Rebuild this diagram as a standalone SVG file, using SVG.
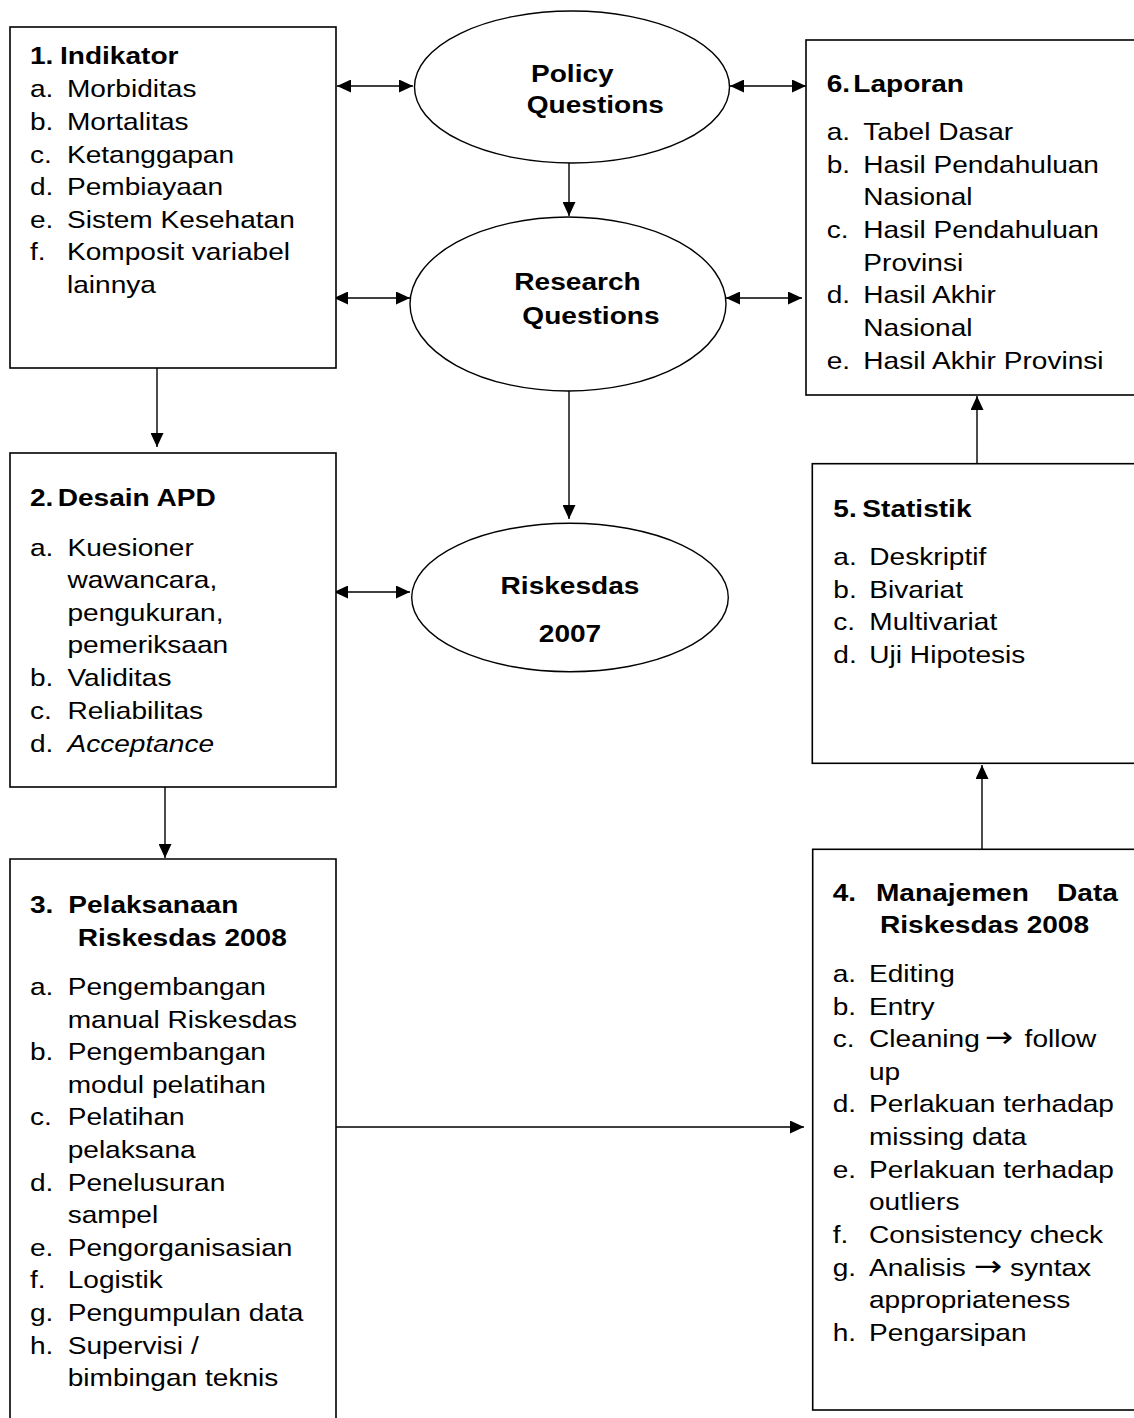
<svg xmlns="http://www.w3.org/2000/svg" width="1134" height="1418" viewBox="0 0 1134 1418">
<style>
.box{fill:#fff;stroke:#000;stroke-width:1.6}
.ell{fill:#fff;stroke:#000;stroke-width:1.4}
.ln{fill:none;stroke:#000;stroke-width:1.4}
text{font-family:"Liberation Sans",Arial,sans-serif;font-size:24px;fill:#000}
.b{font-weight:bold}
.i{font-style:italic}
.ar{font-family:"DejaVu Sans",sans-serif;font-size:29px}
</style>
<defs>
<marker id="ah" viewBox="0 0 14 13" refX="14" refY="6.5" markerWidth="14" markerHeight="13" markerUnits="userSpaceOnUse" orient="auto-start-reverse">
<path d="M0,0 L14,6.5 L0,13 z" fill="#000"/>
</marker>
</defs>
<rect width="1134" height="1418" fill="#fff"/>

<g id="connectors">
<path class="ln" d="M337,86 H413" marker-start="url(#ah)" marker-end="url(#ah)"/>
<path class="ln" d="M334,298 H410" marker-start="url(#ah)" marker-end="url(#ah)"/>
<path class="ln" d="M730,86 H806" marker-start="url(#ah)" marker-end="url(#ah)"/>
<path class="ln" d="M726,298 H802" marker-start="url(#ah)" marker-end="url(#ah)"/>
<path class="ln" d="M334,592 H410" marker-start="url(#ah)" marker-end="url(#ah)"/>
<path class="ln" d="M569,163 V216" marker-end="url(#ah)"/>
<path class="ln" d="M569,391 V519" marker-end="url(#ah)"/>
<path class="ln" d="M157,368 V447" marker-end="url(#ah)"/>
<path class="ln" d="M165,787 V858" marker-end="url(#ah)"/>
<path class="ln" d="M336,1127 H804" marker-end="url(#ah)"/>
<path class="ln" d="M982,849 V765" marker-end="url(#ah)"/>
<path class="ln" d="M977,464 V396" marker-end="url(#ah)"/>
</g>

<g id="node-policy">
<ellipse class="ell" cx="572" cy="87" rx="157.5" ry="76"/>
<text class="b" transform="translate(531 81.7) scale(1.17 1)">Policy</text>
<text class="b" transform="translate(526.7 112.7) scale(1.17 1)">Questions</text>
</g>

<g id="node-research">
<ellipse class="ell" cx="568" cy="304" rx="158" ry="87"/>
<text class="b" transform="translate(514.3 290) scale(1.17 1)">Research</text>
<text class="b" transform="translate(522.3 324) scale(1.17 1)">Questions</text>
</g>

<g id="node-riskesdas">
<ellipse class="ell" cx="570" cy="597.5" rx="158.3" ry="74.2"/>
<text class="b" text-anchor="middle" transform="translate(570 594) scale(1.17 1)">Riskesdas</text>
<text class="b" text-anchor="middle" transform="translate(570 642.3) scale(1.17 1)">2007</text>
</g>

<g id="node-1">
<rect class="box" x="10" y="27" width="326" height="341"/>
<g transform="translate(30 0) scale(1.17 1)">
<text class="b" y="64.3"><tspan x="0">1.</tspan><tspan x="25.6">Indikator</tspan></text>
<text y="97"><tspan x="0">a.</tspan><tspan x="31.6">Morbiditas</tspan></text>
<text y="130"><tspan x="0">b.</tspan><tspan x="31.6">Mortalitas</tspan></text>
<text y="162.6"><tspan x="0">c.</tspan><tspan x="31.6">Ketanggapan</tspan></text>
<text y="195.2"><tspan x="0">d.</tspan><tspan x="31.6">Pembiayaan</tspan></text>
<text y="227.8"><tspan x="0">e.</tspan><tspan x="31.6">Sistem Kesehatan</tspan></text>
<text y="260.4"><tspan x="0">f.</tspan><tspan x="31.6">Komposit variabel</tspan></text>
<text y="293" x="31.6">lainnya</text>
</g>
</g>

<g id="node-2">
<rect class="box" x="10" y="453" width="326" height="334"/>
<g transform="translate(30 0) scale(1.17 1)">
<text class="b" y="505.7"><tspan x="0">2.</tspan><tspan x="23.7">Desain APD</tspan></text>
<text y="555.7"><tspan x="0">a.</tspan><tspan x="32">Kuesioner</tspan></text>
<text y="588.3" x="32">wawancara,</text>
<text y="620.9" x="32">pengukuran,</text>
<text y="653.5" x="32">pemeriksaan</text>
<text y="686.5"><tspan x="0">b.</tspan><tspan x="32">Validitas</tspan></text>
<text y="719"><tspan x="0">c.</tspan><tspan x="32">Reliabilitas</tspan></text>
<text y="751.7"><tspan x="0">d.</tspan><tspan x="32" class="i">Acceptance</tspan></text>
</g>
</g>

<g id="node-3">
<path class="box" d="M10,1425 V859 H336 V1425"/>
<g transform="translate(30 0) scale(1.17 1)">
<text class="b" y="913"><tspan x="0">3.</tspan><tspan x="32.7">Pelaksanaan</tspan></text>
<text class="b" y="946" x="40.8">Riskesdas 2008</text>
<text y="995"><tspan x="0">a.</tspan><tspan x="32.2">Pengembangan</tspan></text>
<text y="1027.6" x="32.2">manual Riskesdas</text>
<text y="1060.2"><tspan x="0">b.</tspan><tspan x="32.2">Pengembangan</tspan></text>
<text y="1092.8" x="32.2">modul pelatihan</text>
<text y="1125.4"><tspan x="0">c.</tspan><tspan x="32.2">Pelatihan</tspan></text>
<text y="1158" x="32.2">pelaksana</text>
<text y="1190.6"><tspan x="0">d.</tspan><tspan x="32.2">Penelusuran</tspan></text>
<text y="1223.2" x="32.2">sampel</text>
<text y="1255.8"><tspan x="0">e.</tspan><tspan x="32.2">Pengorganisasian</tspan></text>
<text y="1288.4"><tspan x="0">f.</tspan><tspan x="32.2">Logistik</tspan></text>
<text y="1321"><tspan x="0">g.</tspan><tspan x="32.2">Pengumpulan data</tspan></text>
<text y="1353.6"><tspan x="0">h.</tspan><tspan x="32.2">Supervisi /</tspan></text>
<text y="1386.2" x="32.2">bimbingan teknis</text>
</g>
</g>

<g id="node-4">
<rect class="box" x="812.7" y="849.3" width="400" height="560.7"/>
<g transform="translate(832.7 0) scale(1.17 1)">
<text class="b" y="901"><tspan x="0">4.</tspan><tspan x="37">Manajemen</tspan></text>
<text class="b" y="901" x="243.8" text-anchor="end">Data</text>
<text class="b" y="933" x="40.4">Riskesdas 2008</text>
<text y="982"><tspan x="0">a.</tspan><tspan x="31">Editing</tspan></text>
<text y="1014.6"><tspan x="0">b.</tspan><tspan x="31">Entry</tspan></text>
<text y="1047.2"><tspan x="0">c.</tspan><tspan x="31">Cleaning</tspan><tspan class="ar" x="130">→</tspan><tspan x="164">follow</tspan></text>
<text y="1079.8" x="31">up</text>
<text y="1112.4"><tspan x="0">d.</tspan><tspan x="31">Perlakuan terhadap</tspan></text>
<text y="1145" x="31">missing data</text>
<text y="1177.6"><tspan x="0">e.</tspan><tspan x="31">Perlakuan terhadap</tspan></text>
<text y="1210.2" x="31">outliers</text>
<text y="1242.8"><tspan x="0">f.</tspan><tspan x="31">Consistency check</tspan></text>
<text y="1275.7"><tspan x="0">g.</tspan><tspan x="31">Analisis</tspan><tspan class="ar" x="120.5">→</tspan><tspan x="151.5">syntax</tspan></text>
<text y="1308.4" x="31">appropriateness</text>
<text y="1341.5"><tspan x="0">h.</tspan><tspan x="31">Pengarsipan</tspan></text>
</g>
</g>

<g id="node-5">
<rect class="box" x="812.3" y="463.7" width="400" height="299.6"/>
<g transform="translate(833.3 0) scale(1.17 1)">
<text class="b" y="516.7"><tspan x="0">5.</tspan><tspan x="24.8">Statistik</tspan></text>
<text y="565"><tspan x="0">a.</tspan><tspan x="30.8">Deskriptif</tspan></text>
<text y="597.7"><tspan x="0">b.</tspan><tspan x="30.8">Bivariat</tspan></text>
<text y="630.5"><tspan x="0">c.</tspan><tspan x="30.8">Multivariat</tspan></text>
<text y="663.3"><tspan x="0">d.</tspan><tspan x="30.8">Uji Hipotesis</tspan></text>
</g>
</g>

<g id="node-6">
<rect class="box" x="806" y="40" width="400" height="355"/>
<g transform="translate(826.7 0) scale(1.17 1)">
<text class="b" y="91.7"><tspan x="0">6.</tspan><tspan x="22.7">Laporan</tspan></text>
<text y="140"><tspan x="0">a.</tspan><tspan x="31.3">Tabel Dasar</tspan></text>
<text y="172.7"><tspan x="0">b.</tspan><tspan x="31.3">Hasil Pendahuluan</tspan></text>
<text y="205.4" x="31.3">Nasional</text>
<text y="238.1"><tspan x="0">c.</tspan><tspan x="31.3">Hasil Pendahuluan</tspan></text>
<text y="270.8" x="31.3">Provinsi</text>
<text y="303.5"><tspan x="0">d.</tspan><tspan x="31.3">Hasil Akhir</tspan></text>
<text y="336.2" x="31.3">Nasional</text>
<text y="368.9"><tspan x="0">e.</tspan><tspan x="31.3">Hasil Akhir Provinsi</tspan></text>
</g>
</g>
</svg>
